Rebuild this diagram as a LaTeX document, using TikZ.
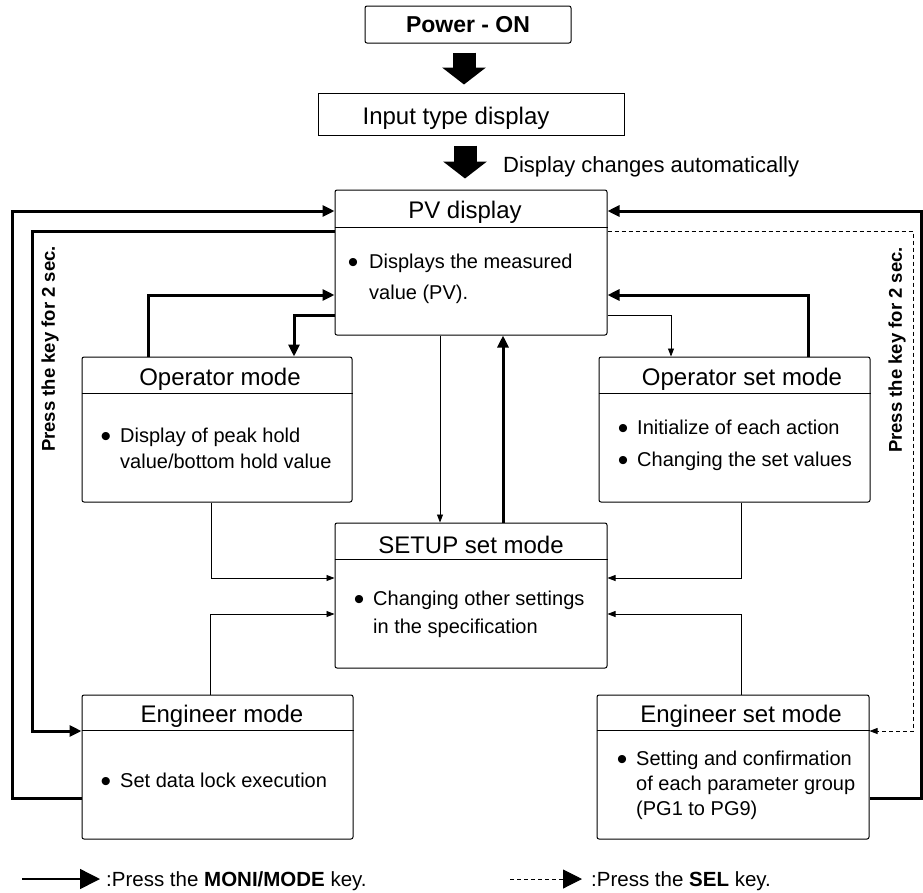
\documentclass[tikz,border=0pt]{standalone}
\usepackage{fontspec}
\setmainfont{Liberation Sans}
\usetikzlibrary{arrows.meta,calc}
\begin{document}
\begin{tikzpicture}[x=1pt,y=-1pt,
  box/.style={draw, line width=1pt, rounded corners=2pt, inner sep=0pt},
  ttl/.style={font=\fontsize{24}{28}\selectfont, anchor=base, inner sep=0pt},
  txt/.style={font=\fontsize{20}{24}\selectfont, anchor=base west, inner sep=0pt},
  bul/.style={font=\fontsize{30}{34}\selectfont, anchor=center, inner sep=0pt, yshift=-4pt},
  rot/.style={font=\bfseries\fontsize{18.5}{22}\selectfont, rotate=90, inner sep=0pt},
  mm/.style={line width=3pt, -{Triangle[length=12pt,width=11pt]}},
  thinarr/.style={line width=0.8pt, -{Triangle[length=8pt,width=6pt]}},
  selarr/.style={thinarr, dash pattern=on 4pt off 3pt},
  blk/.style={line width=23pt, -{Triangle[length=17pt,width=43pt]}},
  hdr/.style={line width=1pt},
]
\useasboundingbox (0,0) rectangle (923,892);

% boxes
\node[box, minimum width=206pt, minimum height=37pt,
      font=\bfseries\fontsize{23}{26}\selectfont] (power) at (468,24.5) {Power - ON};
\node[draw, line width=1pt, inner sep=0pt, minimum width=306pt, minimum height=42pt] (input) at (471,114) {};
\node[ttl] (inputt) at (456,124) {Input type display};
\node[font=\fontsize{22}{26}\selectfont, anchor=base west, inner sep=0pt] (auto) at (503,172) {Display changes automatically};

\node[box, minimum width=272pt, minimum height=145pt] (pv) at (471,262.5) {};
\node[box, minimum width=270pt, minimum height=145pt] (op) at (217,429.5) {};
\node[box, minimum width=271pt, minimum height=145pt] (opset) at (734.5,429.5) {};
\node[box, minimum width=272pt, minimum height=145pt] (setup) at (471,595.5) {};
\node[box, minimum width=271pt, minimum height=144pt] (eng) at (217.5,767) {};
\node[box, minimum width=272pt, minimum height=144pt] (engset) at (733,767) {};

% header lines
\draw[hdr] ([yshift=-38pt]pv.north west) -- ([yshift=-38pt]pv.north east);
\draw[hdr] ([yshift=-37pt]op.north west) -- ([yshift=-37pt]op.north east);
\draw[hdr] ([yshift=-37pt]opset.north west) -- ([yshift=-37pt]opset.north east);
\draw[hdr] ([yshift=-37pt]setup.north west) -- ([yshift=-37pt]setup.north east);
\draw[hdr] ([yshift=-36pt]eng.north west) -- ([yshift=-36pt]eng.north east);
\draw[hdr] ([yshift=-36pt]engset.north west) -- ([yshift=-36pt]engset.north east);

% titles
\node[ttl] (pvt) at (465,218) {PV display};
\node[ttl] (opt) at (220,385) {Operator mode};
\node[ttl] (opsett) at (742,385) {Operator set mode};
\node[ttl] (setupt) at (471,553) {SETUP set mode};
\node[ttl] (engt) at (222,722) {Engineer mode};
\node[ttl] (engsett) at (741,722) {Engineer set mode};

% bullet texts
\node[bul] (pvb1) at (353,261) {\textbullet};
\node[txt] (pvl1) at (369,268) {Displays the measured};
\node[txt] (pvl2) at (369,299) {value (PV).};

\node[bul] (opb1) at (106,435) {\textbullet};
\node[txt] (opl1) at (120,442) {Display of peak hold};
\node[txt] (opl2) at (120,468) {value/bottom hold value};

\node[bul] (osb1) at (623,427) {\textbullet};
\node[txt] (osl1) at (637,434) {Initialize of each action};
\node[bul] (osb2) at (623,459) {\textbullet};
\node[txt] (osl2) at (637,466) {Changing the set values};

\node[bul] (sub1) at (359,598) {\textbullet};
\node[txt] (sul1) at (373,605) {Changing other settings};
\node[txt] (sul2) at (373,633) {in the specification};

\node[bul] (enb1) at (106,780) {\textbullet};
\node[txt] (enl1) at (120,787) {Set data lock execution};

\node[bul] (esb1) at (622,758) {\textbullet};
\node[txt] (esl1) at (636,765) {Setting and confirmation};
\node[txt] (esl2) at (636,790) {of each parameter group};
\node[txt] (esl3) at (636,815) {(PG1 to PG9)};

% rotated labels
\node[rot] (lkl) at (50,349) {Press the key for 2 sec.};
\node[rot] (lkr) at (897,350) {Press the key for 2 sec.};

% block arrows
\draw[blk, shorten <=9pt, shorten >=8pt] ([xshift=-4pt]power.south) -- ([xshift=-7pt]input.north);
\draw[blk, shorten <=10pt, shorten >=11pt] ([xshift=-6pt]input.south) -- ([xshift=-6pt]pv.north);

% MONI/MODE connectors
\draw[mm] (eng.west |- 0,798) -- (12,798) -- (12,211) -- (pv.west |- 0,211);
\draw[mm] (pv.west |- 0,231) -- (32,231) -- (32,731) -- (eng.west |- 0,731);
\draw[mm] (op.north -| 148,0) -- (148,295) -- (pv.west |- 0,295);
\draw[mm] (pv.west |- 0,315) -- (294,315) -- (op.north -| 294,0);
\draw[mm] (setup.north -| 503,0) -- (pv.south -| 503,0);
\draw[mm] (opset.north -| 808,0) -- (808,295) -- (pv.east |- 0,295);
\draw[mm] (engset.east |- 0,798) -- (921,798) -- (921,211) -- (pv.east |- 0,211);

% thin connectors
\draw[thinarr] (pv.east |- 0,315) -- (671,315) -- (opset.north -| 671,0);
\draw[thinarr] (pv.south -| 440,0) -- (setup.north -| 440,0);
\draw[thinarr] (op.south -| 211,0) -- (211,578) -- (setup.west |- 0,578);
\draw[thinarr] (opset.south -| 741,0) -- (741,578) -- (setup.east |- 0,578);
\draw[thinarr] (eng.north -| 210,0) -- (210,614) -- (setup.west |- 0,614);
\draw[thinarr] (engset.north -| 741,0) -- (741,614) -- (setup.east |- 0,614);

% SEL connector
\draw[selarr] (pv.east |- 0,231) -- (913,231) -- (913,731) -- (engset.east |- 0,731);

% legend
\coordinate (la1) at (22,879);
\coordinate (la2) at (100,879);
\draw[line width=1.5pt, -{Triangle[length=20pt,width=20pt]}] (la1) -- (la2);
\node[anchor=base west, inner sep=0pt, font=\fontsize{20.5}{24}\selectfont] (lt1) at (106,886) {:Press the \textbf{MONI/MODE} key.};
\coordinate (lb1) at (510,879);
\coordinate (lb2) at (582,879);
\draw[line width=1pt, dash pattern=on 4pt off 3pt, -{Triangle[length=19pt,width=19pt]}] (lb1) -- (lb2);
\node[anchor=base west, inner sep=0pt, font=\fontsize{20.5}{24}\selectfont] (lt2) at (591,886) {:Press the \textbf{SEL} key.};
\end{tikzpicture}
\end{document}
